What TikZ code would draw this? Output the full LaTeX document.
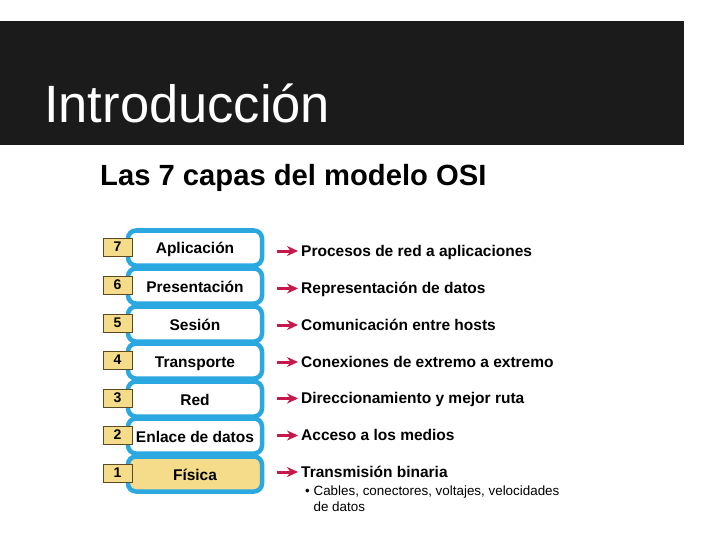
\documentclass[tikz,border=0pt]{standalone}
\usepackage{fontspec}
\setmainfont{Liberation Sans}
\usetikzlibrary{positioning,arrows.meta}

\definecolor{headbg}{HTML}{1B1B1B}
\definecolor{capablue}{HTML}{2AA8DF}
\definecolor{capayellow}{HTML}{F4DC8A}
\definecolor{numborder}{HTML}{5A4A22}
\definecolor{flecharoja}{HTML}{C8174A}

\tikzset{
  capa/.style={draw=capablue, line width=4.5pt, rounded corners=8pt,
    minimum width=134pt, minimum height=35pt, inner sep=0pt,
    text height=14pt, text depth=2pt,
    font=\fontsize{15.5}{15.5}\selectfont\bfseries},
  numero/.style={draw=numborder, fill=capayellow, line width=0.9pt,
    minimum width=29pt, minimum height=18pt, inner sep=0pt,
    font=\fontsize{14}{14}\selectfont\bfseries},
  desc/.style={anchor=west, inner sep=0pt, text height=13pt, text depth=3pt,
    font=\fontsize{15.5}{15.5}\selectfont\bfseries},
  flecha/.style={draw=flecharoja, line width=3pt, shorten >=3pt,
    -{Stealth[length=11pt,width=10pt]}}
}

\begin{document}
\begin{tikzpicture}[x=1pt,y=-1pt]
    \useasboundingbox (0,0) rectangle (720,540);
    \fill[white] (0,0) rectangle (720,540);

    % Header
    \fill[headbg] (0,21) rectangle (684,145);
    \node[anchor=base west, inner sep=0pt, text=white,
      font=\fontsize{52.5}{52.5}\selectfont] (titulo) at (44,123) {Introducción};
    \node[anchor=base west, inner sep=0pt,
      font=\fontsize{29.2}{29.2}\selectfont\bfseries] (subtitulo) at (100,186)
      {Las 7 capas del modelo OSI};

    % Layers
    \foreach \n/\nombre/\texto/\y/\yd/\relleno in {
        7/Aplicación/Procesos de red a aplicaciones/248/251/white,
        6/Presentación/Representación de datos/286/288.5/white,
        5/Sesión/Comunicación entre hosts/324/325/white,
        4/Transporte/Conexiones de extremo a extremo/361/362/white,
        3/Red/Direccionamiento y mejor ruta/399/398.5/white,
        2/Enlace de datos/Acceso a los medios/436/435.5/white,
        1/Física/Transmisión binaria/474/472/capayellow} {
        \node[capa, fill=\relleno] (c\n) at (195,\y) {\nombre};
        \node[numero] (n\n) at (117.5,\y-1) {\n};
        \node[desc] (d\n) at (301,\yd) {\texto};
        \draw[flecha] ([xshift=13pt]d\n.west -| c\n.east) -- (d\n.west);
    }

    % Detail of layer 1
    \node[anchor=north west, inner sep=0pt, align=left,
      font=\fontsize{13.4}{16}\selectfont] (detalle) at (305,486)
      {\textbullet~Cables, conectores, voltajes, velocidades\\
       \phantom{\textbullet~}de datos};
\end{tikzpicture}
\end{document}
